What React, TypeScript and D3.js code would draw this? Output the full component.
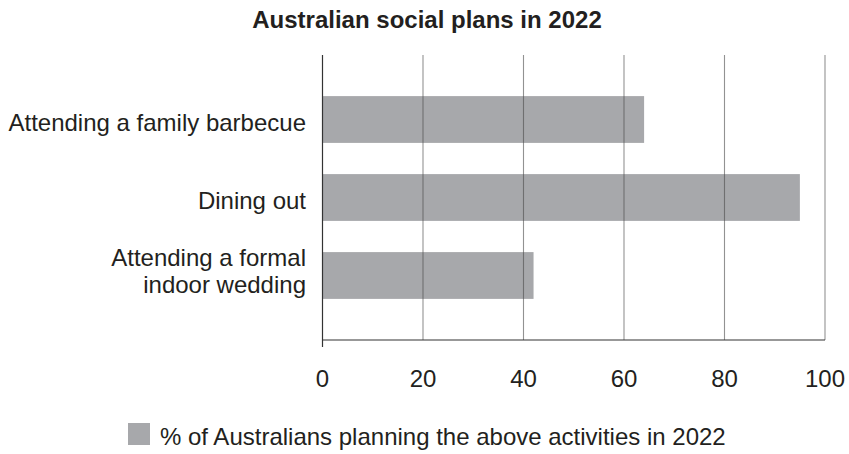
import React from "react";
import * as d3 from "d3";

const categories = ["Attending a family barbecue", "Dining out", "Attending a formal indoor wedding"];
const labelLines = [["Attending a family barbecue"], ["Dining out"], ["Attending a formal", "indoor wedding"]];
const values = [64, 95, 42];
const xTicks = [0, 20, 40, 60, 80, 100];
const title = "Australian social plans in 2022";
const legendLabel = "% of Australians planning the above activities in 2022";

export default function App() {
  const W = 849, H = 454;
  const left = 322.5, right = 825, top = 55, bottom = 340;
  const x = d3.scaleLinear().domain([0, 100]).range([left, right]);
  const y = d3.scaleBand<string>().domain(categories).range([top, bottom]).paddingInner(0.4).paddingOuter(0.527);
  const font = "Arial, 'Liberation Sans', Helvetica, sans-serif";
  const barColor = "#a7a8ab";
  const textColor = "#231f20";
  return (
    <svg width={W} height={H} style={{ position: "absolute", left: 0, top: 0 }} fontFamily={font}>
      <rect width={W} height={H} fill="#fff" />
      <text x={427} y={28} textAnchor="middle" fontWeight="bold" fontSize={24} fill={textColor}>{title}</text>
      {categories.map((c, i) => (
        <rect key={c} x={x(0)} y={y(c)!} width={x(values[i]) - x(0)} height={y.bandwidth()} fill={barColor} />
      ))}
      {xTicks.filter(t => t > 0).map(t => (
        <line key={t} x1={x(t)} x2={x(t)} y1={top} y2={bottom} stroke="#4a4a4a" strokeOpacity={0.6} strokeWidth={1.1} />
      ))}
      <line x1={x(0)} x2={x(0)} y1={top} y2={bottom + 7} stroke="#333" strokeWidth={1.2} />
      <line x1={x(0)} x2={right} y1={bottom} y2={bottom} stroke="#333" strokeWidth={1.2} />
      {xTicks.map(t => (
        <text key={t} x={x(t)} y={387} textAnchor="middle" fontSize={24} fill={textColor}>{t}</text>
      ))}
      {categories.map((c, i) => {
        const lines = labelLines[i];
        const cy = y(c)! + y.bandwidth() / 2;
        const lh = 27;
        const base = lines.length === 1 ? cy + 11.5 : cy + 4.4;
        return (
          <text key={c} x={306} textAnchor="end" fontSize={24} fill={textColor}>
            {lines.map((l, j) => (
              <tspan key={j} x={306} y={base + (j - (lines.length - 1) / 2) * lh}>{l}</tspan>
            ))}
          </text>
        );
      })}
      <rect x={128} y={423} width={22} height={22} fill={barColor} />
      <text x={160} y={445} fontSize={24} fill={textColor}>{legendLabel}</text>
    </svg>
  );
}
